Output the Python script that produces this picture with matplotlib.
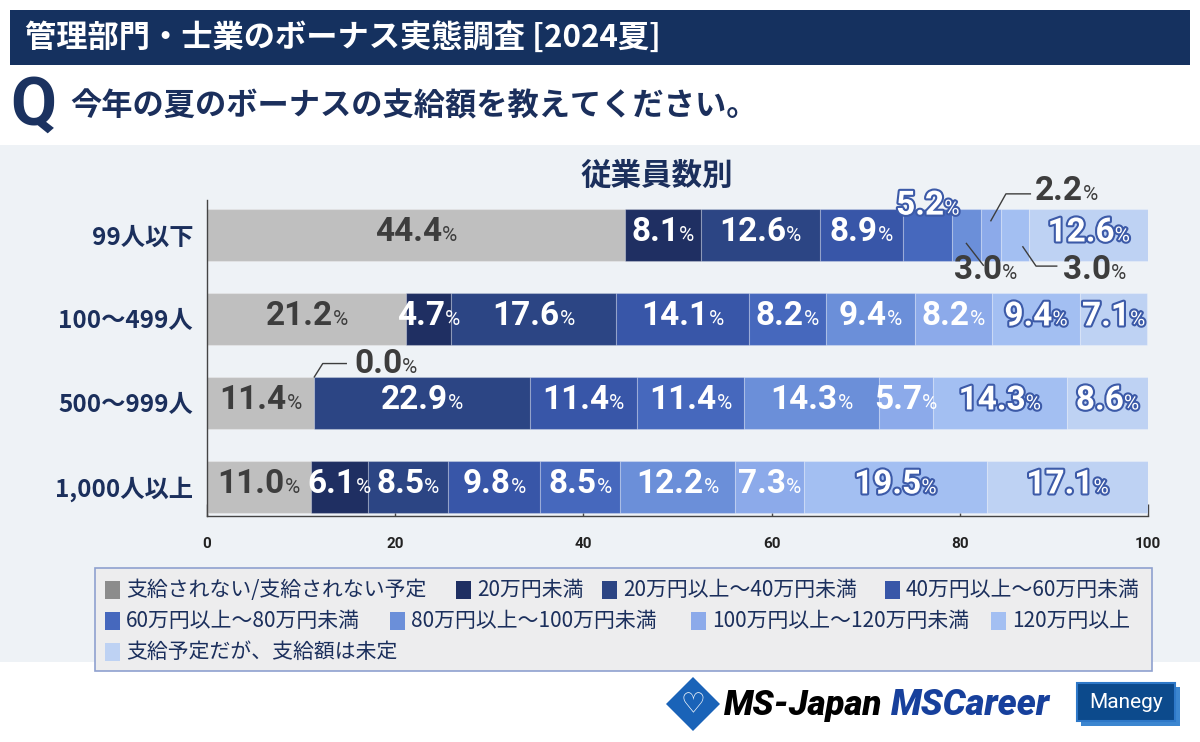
import matplotlib
matplotlib.use('Agg')
import matplotlib.pyplot as plt
from matplotlib import font_manager as fm
from matplotlib.patches import Rectangle, Polygon
from matplotlib.offsetbox import TextArea, HPacker, AnnotationBbox
import matplotlib.patheffects as pe

# ---------------- data ----------------
categories = ['99人以下', '100〜499人', '500〜999人', '1,000人以上']
series_names = ['支給されない/支給されない予定', '20万円未満', '20万円以上〜40万円未満',
                '40万円以上〜60万円未満', '60万円以上〜80万円未満', '80万円以上〜100万円未満',
                '100万円以上〜120万円未満', '120万円以上', '支給予定だが、支給額は未定']
v_none = [44.4, 21.2, 11.4, 11.0]
v_u20 = [8.1, 4.7, 0.0, 6.1]
v_20_40 = [12.6, 17.6, 22.9, 8.5]
v_40_60 = [8.9, 14.1, 11.4, 9.8]
v_60_80 = [5.2, 8.2, 11.4, 8.5]
v_80_100 = [3.0, 9.4, 14.3, 12.2]
v_100_120 = [2.2, 8.2, 5.7, 7.3]
v_120 = [3.0, 9.4, 14.3, 19.5]
v_undecided = [12.6, 7.1, 8.6, 17.1]
x_ticks = [0, 20, 40, 60, 80, 100]

series = [v_none, v_u20, v_20_40, v_40_60, v_60_80, v_80_100, v_100_120, v_120, v_undecided]
bar_colors = ['#bfbfbf', '#1f2f62', '#2c4584', '#3856a8', '#4668bd', '#6b8fd9',
              '#8caaea', '#a3bff2', '#bed2f3']
legend_colors = ['#8c8c8c'] + bar_colors[1:]

# ---------------- fonts ----------------
avail = {f.name for f in fm.fontManager.ttflist}
def pick(*names):
    for n in names:
        if n in avail:
            return n
    return 'DejaVu Sans'
NUM = pick('Roboto', 'Liberation Sans', 'DejaVu Sans')
JP = 'Noto Sans CJK JP'
plt.rcParams['font.family'] = [JP, 'DejaVu Sans']

W, H = 1200, 742
fig = plt.figure(figsize=(12, 7.42), dpi=100)
fig.patch.set_facecolor('white')

def rect(x0, y0, x1, y1, **kw):
    r = Rectangle((x0 / W, 1 - y1 / H), (x1 - x0) / W, (y1 - y0) / H,
                  transform=fig.transFigure, **kw)
    fig.add_artist(r)
    return r

NAVY = '#1b2f5c'
# header
rect(10, 10, 1190, 65, facecolor='#15315f', lw=0)
fig.text(25 / W, 1 - 38 / H, '管理部門・士業のボーナス実態調査 [2024夏]', color='white',
         fontsize=22.5, fontweight='bold', va='center', ha='left')
fig.text(10 / W, 1 - 107 / H, 'Q', color='#1b3260', fontsize=48, fontweight='bold',
         family=NUM, va='center', ha='left')
fig.text(70 / W, 1 - 106 / H, '今年の夏のボーナスの支給額を教えてください。', color=NAVY,
         fontsize=22.5, fontweight='bold', va='center', ha='left')

# panel
rect(0, 145, 1200, 662, facecolor='#eef2f6', lw=0, zorder=-1)
fig.text(657 / W, 1 - 176 / H, '従業員数別', color=NAVY, fontsize=22, fontweight='bold',
         ha='center', va='center')

# ---------------- axes ----------------
ax = fig.add_axes([207 / W, 1 - 516 / H, 941 / W, (516 - 200) / H])
ax.set_facecolor('none')
ypos = list(range(len(categories)))
lefts = [0.0] * len(categories)
seg_centers = []
for j, vals in enumerate(series):
    ax.barh(ypos, vals, left=lefts, height=0.62, color=bar_colors[j],
            edgecolor=(1, 1, 1, 0.25), linewidth=0.8, zorder=2)
    seg_centers.append([l + v / 2 for l, v in zip(lefts, vals)])
    lefts = [l + v for l, v in zip(lefts, vals)]

ax.set_xlim(0, 100)
ax.set_ylim(3.345, -0.417)
for s in ['top', 'right']:
    ax.spines[s].set_visible(False)
for s in ['left', 'bottom']:
    ax.spines[s].set_color('#444444')
    ax.spines[s].set_linewidth(1)
ax.set_xticks(x_ticks)
ax.set_xticklabels([str(t) for t in x_ticks])
ax.tick_params(axis='x', direction='in', length=9, width=1, color='#444444', pad=15)
for t in ax.get_xticklabels():
    t.set_fontfamily(NUM); t.set_fontweight('bold'); t.set_fontsize(11); t.set_color('#222222')
ax.set_yticks(ypos)
ax.set_yticklabels(categories)
ax.tick_params(axis='y', length=0, pad=10)
for t in ax.get_yticklabels():
    t.set_fontweight('bold'); t.set_fontsize(17.5); t.set_color(NAVY)

# ---------------- value labels ----------------
OUT_COL = '#3c5aa8'
def label(x, y, value, style):
    if style == 'white':
        tp = dict(color='white')
    elif style == 'dark':
        tp = dict(color='#3d3d3d')
    else:
        tp = dict(color='white', path_effects=[pe.withStroke(linewidth=3.0, foreground=OUT_COL)])
    tp1 = dict(tp, fontsize=24, fontweight='bold', family=NUM)
    tp2 = dict(tp, fontsize=15, fontweight='normal', family=NUM)
    box = HPacker(children=[TextArea(f'{value:.1f}', textprops=tp1),
                            TextArea('%', textprops=tp2)], align='baseline', pad=0, sep=0)
    ab = AnnotationBbox(box, (x, y), xycoords='data', frameon=False, box_alignment=(0.5, 0.42),
                        annotation_clip=False, zorder=6)
    ax.add_artist(ab)

# labels placed outside their segment: (row, series) -> label offset, leader offsets
outside = {
    (0, 4): dict(d=(0.0, -0.32), style='outline', leader=None),
    (0, 5): dict(d=(2.0, 0.45), style='dark', leader=[(0.0, 0.10), (1.8, 0.36)]),
    (0, 6): dict(d=(8.0, -0.49), style='dark', leader=[(0.0, -0.17), (1.6, -0.49), (4.2, -0.49)]),
    (0, 7): dict(d=(8.4, 0.45), style='dark', leader=[(0.8, 0.14), (2.2, 0.37), (4.4, 0.37)]),
    (2, 1): dict(d=(7.6, -0.44), style='dark', leader=[(0.0, -0.31), (0.9, -0.47), (3.4, -0.47)]),
}

for j, vals in enumerate(series):
    for i, v in enumerate(vals):
        cx = seg_centers[j][i]
        if (i, j) in outside:
            o = outside[(i, j)]
            if o['leader']:
                ax.plot([cx + p[0] for p in o['leader']], [i + p[1] for p in o['leader']],
                        color='#3d3d3d', lw=1, clip_on=False, zorder=5)
            label(cx + o['d'][0], i + o['d'][1], v, o['style'])
            continue
        if j == 0:
            st = 'dark'
        elif j >= 7:
            st = 'outline'
        else:
            st = 'white'
        label(cx, i, v, st)

# ---------------- legend ----------------
rect(95, 568, 1152, 671, facecolor='#ededee', edgecolor='#8fa1cf', lw=1.2, zorder=1)
leg_rows = [(590, [105, 456, 602, 885]), (621, [105, 390, 691, 991]), (652, [105])]
k = 0
for yrow, xs in leg_rows:
    for x0 in xs:
        rect(x0, yrow - 9, x0 + 15, yrow + 9, facecolor=legend_colors[k], lw=0, zorder=2)
        fig.text((x0 + 21) / W, 1 - yrow / H, series_names[k], color=NAVY, fontsize=15,
                 va='center', ha='left', zorder=3)
        k += 1

# ---------------- logos ----------------
cxl, cyl, rl = 693, 704, 27
fig.add_artist(Polygon([((cxl) / W, 1 - (cyl - rl) / H), ((cxl + rl) / W, 1 - cyl / H),
                        (cxl / W, 1 - (cyl + rl) / H), ((cxl - rl) / W, 1 - cyl / H)],
                       closed=True, transform=fig.transFigure, facecolor='#1a63b8', lw=0))
fig.text(cxl / W, 1 - (cyl + 1) / H, '♡', family='DejaVu Sans', color='white', fontsize=20,
         fontweight='bold', ha='center', va='center')
fig.text(724 / W, 1 - 705 / H, 'MS-Japan', family=NUM, fontsize=25, fontweight='heavy',
         style='italic', color='black', ha='left', va='center')
fig.text(891 / W, 1 - 705 / H, 'MSCareer', family=NUM, fontsize=26, fontweight='heavy',
         style='italic', color='#17409c', ha='left', va='center')
rect(1081, 687, 1180, 726, facecolor='#3c86d0', lw=0)
rect(1077, 683, 1175, 721, facecolor='#0c4a8c', edgecolor='#2e78c8', lw=1.5)
fig.text(1126 / W, 1 - 702 / H, 'Manegy', family=NUM, fontsize=15, color='white',
         ha='center', va='center')

fig.savefig('out.png', dpi=100)
